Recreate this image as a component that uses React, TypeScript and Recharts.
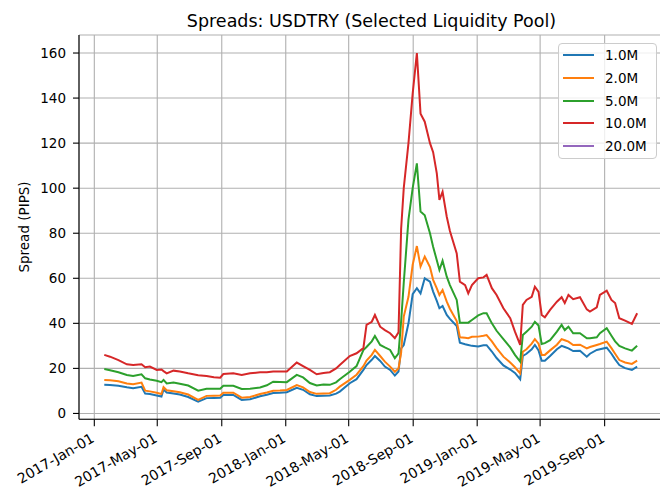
import { LineChart, Line, XAxis, YAxis, CartesianGrid, Legend } from "recharts";

const dates = [
  "2017-01-20", "2017-01-31", "2017-02-16", "2017-03-04", "2017-03-16", "2017-04-01", "2017-04-08",
  "2017-04-17", "2017-04-30", "2017-05-09", "2017-05-13", "2017-05-19", "2017-06-01", "2017-06-13",
  "2017-06-29", "2017-07-18", "2017-08-03", "2017-08-17", "2017-08-29", "2017-09-04", "2017-09-23",
  "2017-10-09", "2017-10-25", "2017-11-13", "2017-11-26", "2017-12-08", "2017-12-21", "2018-01-03",
  "2018-01-22", "2018-02-03", "2018-02-16", "2018-03-01", "2018-03-14", "2018-03-26", "2018-04-07",
  "2018-04-14", "2018-05-03", "2018-05-16", "2018-05-29", "2018-06-04", "2018-06-14", "2018-06-20",
  "2018-06-30", "2018-07-09", "2018-07-19", "2018-07-28", "2018-08-04", "2018-08-09", "2018-08-14",
  "2018-08-23", "2018-08-31", "2018-09-08", "2018-09-15", "2018-09-23", "2018-10-03", "2018-10-09",
  "2018-10-16", "2018-10-21", "2018-10-27", "2018-11-04", "2018-11-10", "2018-11-23", "2018-11-29",
  "2018-12-09", "2018-12-15", "2018-12-22", "2019-01-03", "2019-01-13", "2019-01-19", "2019-01-29",
  "2019-02-07", "2019-02-20", "2019-03-05", "2019-03-14", "2019-03-24", "2019-03-29", "2019-04-05",
  "2019-04-15", "2019-04-21", "2019-04-28", "2019-05-04", "2019-05-10", "2019-05-20", "2019-06-02",
  "2019-06-11", "2019-06-17", "2019-06-24", "2019-07-03", "2019-07-16", "2019-07-29", "2019-08-04",
  "2019-08-17", "2019-08-23", "2019-09-05", "2019-09-14", "2019-09-21", "2019-09-29", "2019-10-10",
  "2019-10-23", "2019-11-02",
];

const spread1M = [
  12.7, 12.6, 12.3, 11.6, 11.2, 11.8, 8.8, 8.6, 8, 7.5, 10.6, 9.3, 8.9, 8.4, 7.3, 5.2, 6.8, 6.9, 7, 8.2,
  8.2, 6, 6.3, 7.6, 8.3, 9.1, 9.2, 9.4, 11.4, 10.5, 8.5, 7.7, 7.9, 8, 8.8,
  9.7, 13.4, 15.2, 19.3, 21.5, 23.8, 25.5, 23.3, 20.8, 19.3, 16.8, 18.6, 28.9, 30.4, 40, 53, 55.6, 53.3,
  60, 58.5, 54.1, 50, 46.7, 47.7, 43.7, 42, 38.8, 31.4, 30.7, 30.4, 30, 29.7, 30.3, 30.3, 27.5, 24.6,
  21.3, 19.5, 18, 15.2, 25.5, 26.5, 28.5, 30.4, 28, 23.4, 23.4, 25.5, 28.5, 30, 29.5, 28.9, 27.7, 27.8,
  25.2, 26.5, 28.2, 28.5, 29.2, 26.5, 24, 21.5, 20.1, 19.3, 20.8,
];

const spread2M = [
  14.9, 14.7, 14.3, 13.3, 13, 13.7, 10.1, 9.8, 9.2, 8.6, 11.7, 10.3, 9.9, 9.4, 8.4, 6, 7.8, 7.9, 8, 9.2,
  9.2, 7, 7.3, 8.6, 9.3, 10.1, 10.2, 10.4, 12.6, 11.6, 9.5, 8.7, 8.9, 9, 10.5,
  11.9, 14.9, 17.2, 21, 23.5, 26, 28.2, 25.5, 23, 20.8, 18.5, 20, 27, 43, 51.8, 66, 74.3, 65.2, 69.6,
  65, 59.3, 55.5, 52.6, 54.8, 49.6, 46.5, 41, 33.8, 33.6, 33.4, 34, 34.1, 34.5, 34.8, 32, 29, 25.2,
  22.6, 20.5, 17.8, 27.4, 28.5, 31, 33, 31, 26, 26, 28, 30.5, 33, 32.5, 31.9, 30.4, 30.5, 28.9, 29.5,
  30.4, 30.8, 31.9, 29, 26.5, 23.7, 22.6, 22, 23.4,
];

const spread5M = [
  19.7, 19.2, 18.3, 17.1, 16.6, 17.4, 15.6, 15.1, 14.5, 13.9, 14.9, 13.3, 13.7, 13.2, 12.4, 10.1, 11, 11,
  11, 12.3, 12.3, 10.9, 11, 11.5, 12.5, 14.1, 14, 13.9, 17.1, 16, 13.5, 12.4, 12.8, 12.7, 13.8,
  15.2, 18.5, 21, 28.1, 29.5, 32, 34.4, 30.4, 29.3, 28.2, 24.5, 26.7, 41, 58, 86, 100, 111, 89.6, 88,
  80, 74, 68, 63.7, 67.8, 60.7, 57, 50.4, 40.3, 40.3, 40.3, 41.5, 43.5, 44.5, 44.5, 40, 36.7, 33, 29.3,
  26, 23, 34.8, 36.3, 38.5, 40.7, 39, 30.8, 31.2, 32.5, 36.3, 39.3, 37, 38.5, 35.6, 35.6, 33.4, 33.4,
  33.8, 35.6, 37.8, 34.5, 32, 30, 28.9, 27.9, 30,
];

const spread10M = [
  26, 25.2, 23.7, 21.8, 21.5, 21.8, 20.5, 20.8, 19.3, 19.5, 18.8, 17.8, 19, 18.6, 17.8, 17, 16.6, 16.1,
  15.9, 17.5, 17.8, 17.1, 17.8, 18.3, 18.3, 18.6, 18.6, 18.6, 22.6, 21, 19.3, 17.4, 18, 18.3, 20,
  21.5, 25.5, 26.7, 29, 39.3, 40.7, 43.7, 38.5, 37, 35.6, 33.4, 36, 82, 100, 120, 142, 160, 133, 129.5,
  120, 116, 106.6, 94.8, 98.4, 87.3, 81, 71, 58.5, 57, 53.3, 57, 60, 60.4, 61.5, 55.6, 52.6, 46.7, 42.3,
  36.3, 30.4, 48.2, 50.4, 51.8, 56.3, 54, 43.7, 42.7, 46, 49.6, 51.6, 49, 52.6, 50.7, 51.6, 46.2, 45.2,
  47.1, 52.6, 54.5, 50.4, 49, 42.3, 41.2, 39.7, 44.5,
];

// 20.0M pool has no quotes in this period
const spread20M: (number | null)[] = [];

const tickDates = [
  "2017-01-01", "2017-05-01", "2017-09-01", "2018-01-01", "2018-05-01",
  "2018-09-01", "2019-01-01", "2019-05-01", "2019-09-01",
];
const yTicks = [0, 20, 40, 60, 80, 100, 120, 140, 160];
const MONTHS = ["Jan", "Feb", "Mar", "Apr", "May", "Jun", "Jul", "Aug", "Sep", "Oct", "Nov", "Dec"];

const FONT = "DejaVu Sans, sans-serif";
const DAY = 86400000;
const ORIGIN = Date.UTC(2017, 0, 1);

const toDay = (s: string) => {
  const [y, m, d] = s.split("-").map(Number);
  return (Date.UTC(y, m - 1, d) - ORIGIN) / DAY;
};

const fmtDay = (v: number) => {
  const d = new Date(ORIGIN + Math.round(v) * DAY);
  return `${d.getUTCFullYear()}-${MONTHS[d.getUTCMonth()]}-${String(d.getUTCDate()).padStart(2, "0")}`;
};

const series = [
  { key: "m1", name: "1.0M", color: "#1f77b4", values: spread1M },
  { key: "m2", name: "2.0M", color: "#ff7f0e", values: spread2M },
  { key: "m5", name: "5.0M", color: "#2ca02c", values: spread5M },
  { key: "m10", name: "10.0M", color: "#d62728", values: spread10M },
  { key: "m20", name: "20.0M", color: "#9467bd", values: spread20M },
];

const rows = dates.map((d, i) => {
  const row: Record<string, number | null> = { t: toDay(d) };
  series.forEach(s => { row[s.key] = s.values[i] ?? null; });
  return row;
});

const xDomain = [-29.2, 1086.2];
const tickDays = tickDates.map(toDay);

// rotated date label, right end hanging just under the tick (like autofmt_xdate)
const DateTick = (props: any) => {
  const { x, y, payload } = props;
  const ax = x - 4;
  return (
    <text
      x={ax}
      y={y}
      dy="0.72em"
      textAnchor="end"
      transform={`rotate(-30, ${ax}, ${y})`}
      fontSize={14}
      fontFamily={FONT}
      fill="#000"
    >
      {fmtDay(payload.value)}
    </text>
  );
};

const LegendBox = () => (
  <div
    style={{
      background: "rgba(255,255,255,0.8)",
      border: "1px solid #cccccc",
      borderRadius: 4,
      width: 99,
      boxSizing: "border-box",
      paddingLeft: 4,
      fontFamily: FONT,
    }}
  >
    {series.map(s => (
      <div key={s.key} style={{ display: "flex", alignItems: "center", height: 22.8 }}>
        <span style={{ width: 31, height: 0, borderTop: `2px solid ${s.color}`, marginRight: 11 }} />
        <span style={{ fontSize: 13.5, color: "#000" }}>{s.name}</span>
      </div>
    ))}
  </div>
);

export default function App() {
  return (
    <div style={{ position: "absolute", left: 0, top: 0, width: 660, height: 493, overflow: "hidden", background: "#fff" }}>
      <svg width={660} height={35} style={{ position: "absolute", left: 0, top: 0 }}>
        <text x={371.5} y={27} textAnchor="middle" fontSize={17.5} fontFamily={FONT} fill="#000">
          Spreads: USDTRY (Selected Liquidity Pool)
        </text>
      </svg>
      <LineChart width={668} height={493} data={rows} margin={{ top: 35, right: 4, left: 0, bottom: 0 }}>
        <CartesianGrid stroke="#b0b0b0" strokeWidth={1.1} />
        <XAxis
          dataKey="t"
          type="number"
          domain={xDomain}
          ticks={tickDays}
          interval={0}
          allowDataOverflow
          height={73.7}
          tickSize={7}
          tickMargin={6}
          tick={DateTick}
          axisLine={{ stroke: "#000", strokeWidth: 1.1 }}
          tickLine={{ stroke: "#000", strokeWidth: 1.1 }}
        />
        <XAxis
          xAxisId="top"
          orientation="top"
          dataKey="t"
          type="number"
          domain={xDomain}
          allowDataOverflow
          height={0}
          tick={false}
          tickLine={false}
          axisLine={{ stroke: "#000", strokeWidth: 1.1 }}
        />
        <YAxis
          type="number"
          domain={[-2.6, 168]}
          ticks={yTicks}
          interval={0}
          allowDataOverflow
          width={79}
          tickSize={6}
          tickMargin={7}
          tick={{ fontSize: 13.5, fill: "#000", fontFamily: FONT }}
          axisLine={{ stroke: "#000", strokeWidth: 1.1 }}
          tickLine={{ stroke: "#000", strokeWidth: 1.1 }}
          label={{
            content: () => (
              <text
                x={23.5}
                y={227}
                transform="rotate(-90, 23.5, 227)"
                textAnchor="middle"
                dominantBaseline="central"
                fontSize={13.5}
                fontFamily={FONT}
                fill="#000"
              >
                Spread (PIPS)
              </text>
            ),
          }}
        />
        {series.map(s => (
          <Line
            key={s.key}
            dataKey={s.key}
            name={s.name}
            type="linear"
            stroke={s.color}
            strokeWidth={2}
            dot={false}
            activeDot={false}
            isAnimationActive={false}
          />
        ))}
        <Legend
          layout="vertical"
          align="center"
          verticalAlign="middle"
          content={LegendBox}
          wrapperStyle={{ position: "absolute", left: 558, top: 42.7, width: 99 }}
        />
      </LineChart>
    </div>
  );
}
